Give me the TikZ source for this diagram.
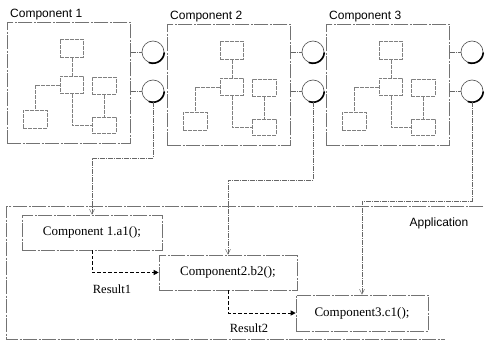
\documentclass[tikz,border=0pt]{standalone}
\usepackage{fontspec}
\setmainfont{Liberation Serif}
\newfontfamily\sansf{Liberation Sans}
\usetikzlibrary{arrows.meta}
\tikzset{
  frame/.style={draw=black!55, line width=0.6pt, dash pattern=on 14pt off 1.5pt on 2pt off 1.5pt},
  ibox/.style={draw=black!50, line width=0.5pt, dash pattern=on 4pt off 1pt, inner sep=0pt, anchor=north west},
  iline/.style={draw=black!50, line width=0.5pt, dash pattern=on 4pt off 1pt},
  port/.style={circle, draw=black!70, line width=0.6pt, minimum size=22pt, inner sep=0pt},
  portshade/.style={draw=black, line width=1.6pt, line join=round, line cap=round},
  plink/.style={draw=black!60, line width=0.5pt, dash pattern=on 5pt off 1pt on 1pt off 1pt},
  link/.style={draw=black!60, line width=0.5pt, dash pattern=on 5pt off 1pt on 1pt off 1pt, -{Straight Barb[length=5pt,width=5pt]}},
  callbox/.style={draw=black!55, line width=0.6pt, dash pattern=on 14pt off 1.5pt on 2pt off 1.5pt, inner sep=0pt, font=\fontsize{13}{15}\selectfont},
  result/.style={draw=black, line width=1pt, dash pattern=on 3.5pt off 2pt, -{Triangle[length=5pt,width=5pt]}},
  reslabel/.style={font=\fontsize{12.5}{14}\selectfont},
  comptitle/.style={font=\sansf\fontsize{12}{14}\selectfont, inner sep=0pt, anchor=base west},
}
\begin{document}
\begin{tikzpicture}[x=1pt,y=-1pt]
\useasboundingbox[fill=white] (0,0) rectangle (485,343);
% components
\foreach \i/\x/\y in {1/7/22, 2/167/24, 3/326/24} {
  \node[comptitle] (t\i) at ({\x+3},{\y-5}) {Component \i};
  \node[frame, anchor=north west, minimum width=123pt, minimum height=121pt, inner sep=0pt] (c\i) at (\x,\y) {};
  \begin{scope}[shift={(\x,\y)}]
    \node[ibox, minimum width=23pt, minimum height=18pt] (c\i t) at (53,17) {};
    \node[ibox, minimum width=23pt, minimum height=17pt] (c\i m) at (53,54) {};
    \node[ibox, minimum width=24pt, minimum height=17pt] (c\i r) at (85,55) {};
    \node[ibox, minimum width=24pt, minimum height=18pt] (c\i bl) at (16,88) {};
    \node[ibox, minimum width=24pt, minimum height=16pt] (c\i br) at (85,95) {};
  \end{scope}
  \draw[iline] (c\i t.south) -- (c\i m.north);
  \draw[iline] (c\i m.west) -| (c\i bl.north);
  \draw[iline] (c\i m.south) |- (c\i br.west);
  \draw[iline] (c\i r.south) -- (c\i br.north);
  \node[port] (c\i p1) at ({\x+146},52) {};
  \node[port] (c\i p2) at ({\x+146},91) {};
  \draw[plink] (c\i.east |- c\i p1) -- (c\i p1.west);
  \draw[plink] (c\i.east |- c\i p2) -- (c\i p2.west);
  \draw[portshade] (c\i p1.-5) -- (c\i p1.-20) -- (c\i p1.-35) -- (c\i p1.-50) -- (c\i p1.-65) -- (c\i p1.-80) -- (c\i p1.-95) -- (c\i p1.-110);
  \draw[portshade] (c\i p2.-5) -- (c\i p2.-20) -- (c\i p2.-35) -- (c\i p2.-50) -- (c\i p2.-65) -- (c\i p2.-80) -- (c\i p2.-95) -- (c\i p2.-110);
}
% application frame
\draw[frame] (483,206) -- (6,206) -- (6,339) -- (445,339);
\node[font=\sansf\fontsize{12}{14}\selectfont] (app) at (439,223) {Application};
% calls
\node[callbox, minimum width=140pt, minimum height=35pt] (a1) at (92,232.5) {Component 1.a1();};
\node[callbox, minimum width=138pt, minimum height=35pt] (a2) at (228,272.5) {Component2.b2();};
\node[callbox, minimum width=132pt, minimum height=36pt] (a3) at (362,313) {Component3.c1();};
% links from ports
\draw[link] (c1p2.south) -- ++(0,56) -| (a1.north);
\draw[link] (c2p2.south) -- ++(0,78) -| (a2.north);
\draw[link] (c3p2.south) -- ++(0,99) -| (a3.north);
% results
\draw[result] (a1.south) |- (a2.west);
\draw[result] (a2.south) |- (a3.west);
\node[reslabel] (r1) at (112,289) {Result1};
\node[reslabel] (r2) at (249,328) {Result2};
\end{tikzpicture}
\end{document}
